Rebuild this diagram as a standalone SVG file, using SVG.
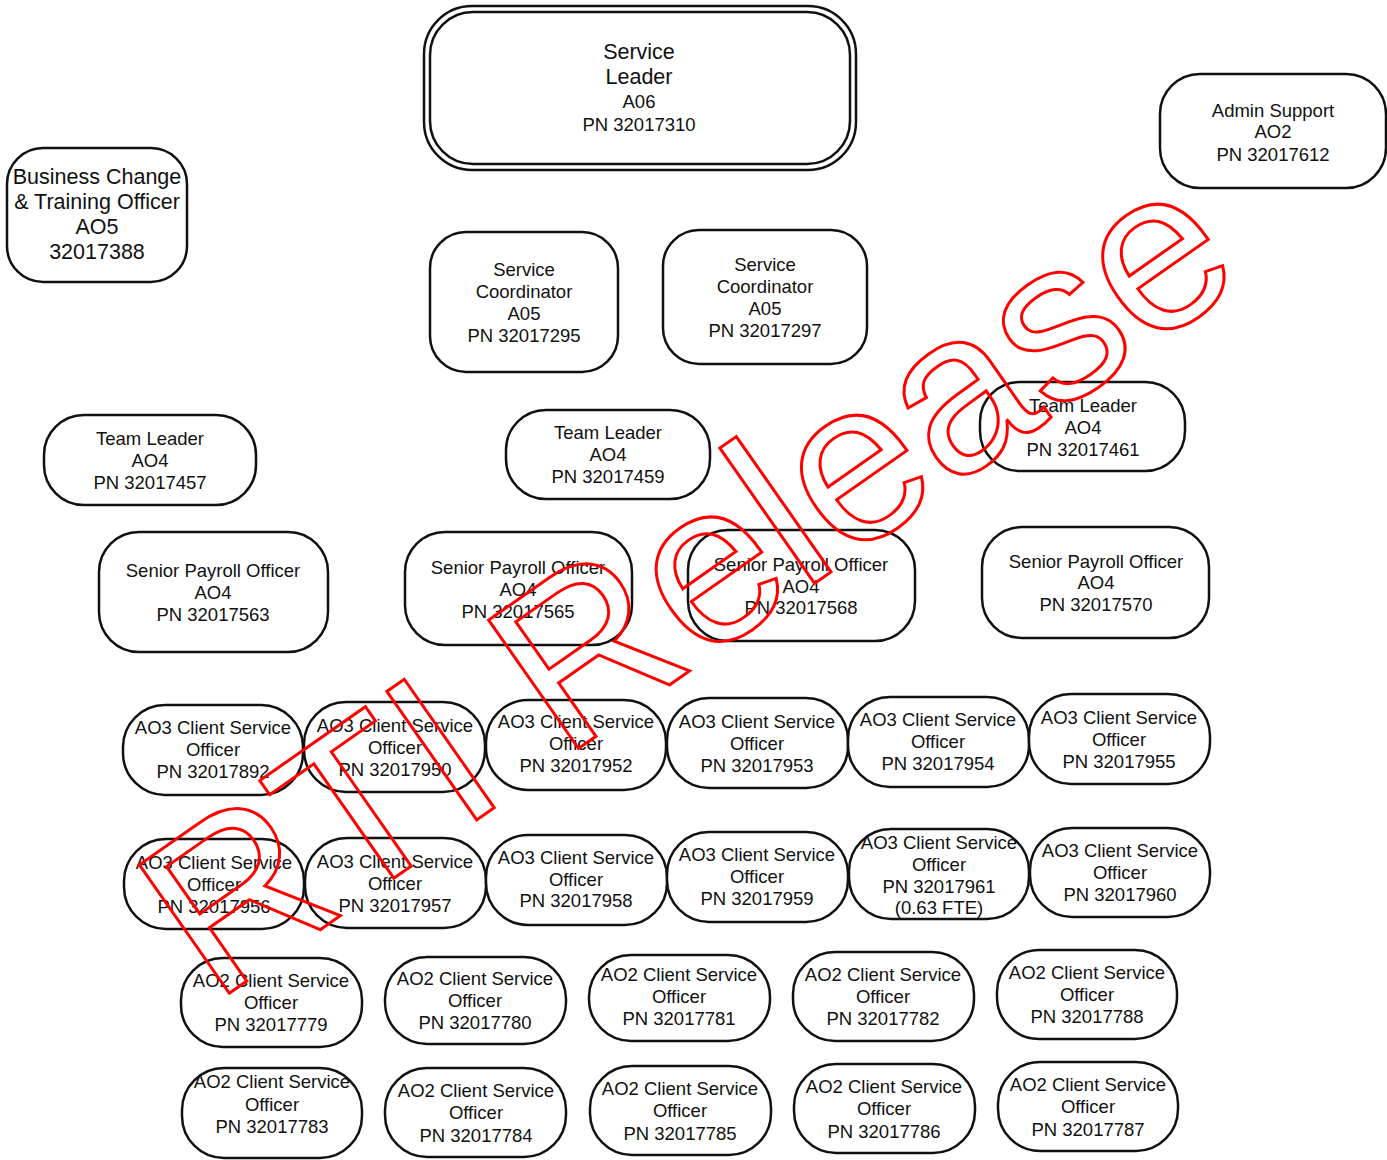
<svg xmlns="http://www.w3.org/2000/svg" width="1387" height="1160" viewBox="0 0 1387 1160">
<style>
.b{fill:#fff;stroke:#111;stroke-width:2.5}
.t{font-family:"Liberation Sans",Arial,sans-serif;font-size:18.5px;fill:#111;text-anchor:middle}
.L{font-size:21.5px}
.wm{font-family:"Liberation Sans",Arial,sans-serif;font-size:228px;fill:none;stroke:#f00;stroke-width:3}
</style>
<rect width="1387" height="1160" fill="#fff"/>
<g id="connectors"/>
<g id="service-leader">
<rect class="b" x="424" y="6" width="432" height="164" rx="48"/>
<rect class="b" x="430" y="12" width="420" height="152" rx="43"/>
<text class="t L" x="639" y="59">Service</text>
<text class="t L" x="639" y="84">Leader</text>
<text class="t" x="639" y="108">A06</text>
<text class="t" x="639" y="131">PN 32017310</text>
</g>
<g id="admin-support">
<rect class="b" x="1160" y="74" width="226" height="114" rx="40"/>
<text class="t" x="1273" y="117">Admin Support</text>
<text class="t" x="1273" y="138">AO2</text>
<text class="t" x="1273" y="161">PN 32017612</text>
</g>
<g id="business-change">
<rect class="b" x="7" y="148" width="180" height="134" rx="36"/>
<text class="t L" x="97" y="184">Business Change</text>
<text class="t L" x="97" y="209">&amp; Training Officer</text>
<text class="t L" x="97" y="234">AO5</text>
<text class="t L" x="97" y="259">32017388</text>
</g>
<g id="coord-295">
<rect class="b" x="430" y="232" width="188" height="140" rx="36"/>
<text class="t" x="524" y="276">Service</text>
<text class="t" x="524" y="298">Coordinator</text>
<text class="t" x="524" y="320">A05</text>
<text class="t" x="524" y="342">PN 32017295</text>
</g>
<g id="coord-297">
<rect class="b" x="663" y="230" width="204" height="134" rx="36"/>
<text class="t" x="765" y="271">Service</text>
<text class="t" x="765" y="293">Coordinator</text>
<text class="t" x="765" y="315">A05</text>
<text class="t" x="765" y="337">PN 32017297</text>
</g>
<g id="tl-457">
<rect class="b" x="44" y="415" width="212" height="90" rx="40"/>
<text class="t" x="150" y="445">Team Leader</text>
<text class="t" x="150" y="467">AO4</text>
<text class="t" x="150" y="489">PN 32017457</text>
</g>
<g id="tl-459">
<rect class="b" x="506" y="410" width="204" height="89" rx="40"/>
<text class="t" x="608" y="439">Team Leader</text>
<text class="t" x="608" y="461">AO4</text>
<text class="t" x="608" y="483">PN 32017459</text>
</g>
<g id="tl-461">
<rect class="b" x="980" y="382" width="205" height="89" rx="40"/>
<text class="t" x="1083" y="412">Team Leader</text>
<text class="t" x="1083" y="434">AO4</text>
<text class="t" x="1083" y="456">PN 32017461</text>
</g>
<g id="sp-563">
<rect class="b" x="99" y="532" width="229" height="120" rx="40"/>
<text class="t" x="213" y="577">Senior Payroll Officer</text>
<text class="t" x="213" y="599">AO4</text>
<text class="t" x="213" y="621">PN 32017563</text>
</g>
<g id="sp-565">
<rect class="b" x="405" y="532" width="227" height="113" rx="40"/>
<text class="t" x="518" y="574">Senior Payroll Officer</text>
<text class="t" x="518" y="596">AO4</text>
<text class="t" x="518" y="618">PN 32017565</text>
</g>
<g id="sp-568">
<rect class="b" x="688" y="530" width="227" height="111" rx="40"/>
<text class="t" x="801" y="571">Senior Payroll Officer</text>
<text class="t" x="801" y="593">AO4</text>
<text class="t" x="801" y="614">PN 32017568</text>
</g>
<g id="sp-570">
<rect class="b" x="982" y="527" width="227" height="111" rx="40"/>
<text class="t" x="1096" y="568">Senior Payroll Officer</text>
<text class="t" x="1096" y="589">AO4</text>
<text class="t" x="1096" y="611">PN 32017570</text>
</g>
<g id="ao3-892">
<rect class="b" x="123" y="705" width="180" height="90" rx="42"/>
<text class="t" x="213" y="734">AO3 Client Service</text>
<text class="t" x="213" y="756">Officer</text>
<text class="t" x="213" y="778">PN 32017892</text>
</g>
<g id="ao3-950">
<rect class="b" x="304" y="702" width="181" height="90" rx="42"/>
<text class="t" x="395" y="732">AO3 Client Service</text>
<text class="t" x="395" y="754">Officer</text>
<text class="t" x="395" y="776">PN 32017950</text>
</g>
<g id="ao3-952">
<rect class="b" x="486" y="700" width="180" height="90" rx="42"/>
<text class="t" x="576" y="728">AO3 Client Service</text>
<text class="t" x="576" y="750">Officer</text>
<text class="t" x="576" y="772">PN 32017952</text>
</g>
<g id="ao3-953">
<rect class="b" x="667" y="698" width="181" height="90" rx="42"/>
<text class="t" x="757" y="728">AO3 Client Service</text>
<text class="t" x="757" y="750">Officer</text>
<text class="t" x="757" y="772">PN 32017953</text>
</g>
<g id="ao3-954">
<rect class="b" x="848" y="697" width="181" height="90" rx="42"/>
<text class="t" x="938" y="726">AO3 Client Service</text>
<text class="t" x="938" y="748">Officer</text>
<text class="t" x="938" y="770">PN 32017954</text>
</g>
<g id="ao3-955">
<rect class="b" x="1029" y="694" width="181" height="90" rx="42"/>
<text class="t" x="1119" y="724">AO3 Client Service</text>
<text class="t" x="1119" y="746">Officer</text>
<text class="t" x="1119" y="768">PN 32017955</text>
</g>
<g id="ao3-956">
<rect class="b" x="124" y="839" width="180" height="90" rx="42"/>
<text class="t" x="214" y="869">AO3 Client Service</text>
<text class="t" x="214" y="891">Officer</text>
<text class="t" x="214" y="913">PN 32017956</text>
</g>
<g id="ao3-957">
<rect class="b" x="305" y="838" width="181" height="90" rx="42"/>
<text class="t" x="395" y="868">AO3 Client Service</text>
<text class="t" x="395" y="890">Officer</text>
<text class="t" x="395" y="912">PN 32017957</text>
</g>
<g id="ao3-958">
<rect class="b" x="486" y="835" width="181" height="90" rx="42"/>
<text class="t" x="576" y="864">AO3 Client Service</text>
<text class="t" x="576" y="886">Officer</text>
<text class="t" x="576" y="907">PN 32017958</text>
</g>
<g id="ao3-959">
<rect class="b" x="667" y="832" width="181" height="90" rx="42"/>
<text class="t" x="757" y="861">AO3 Client Service</text>
<text class="t" x="757" y="883">Officer</text>
<text class="t" x="757" y="905">PN 32017959</text>
</g>
<g id="ao3-961">
<rect class="b" x="849" y="829" width="180" height="90" rx="42"/>
<text class="t" x="939" y="849">AO3 Client Service</text>
<text class="t" x="939" y="871">Officer</text>
<text class="t" x="939" y="893">PN 32017961</text>
<text class="t" x="939" y="914">(0.63 FTE)</text>
</g>
<g id="ao3-960">
<rect class="b" x="1030" y="828" width="180" height="89" rx="42"/>
<text class="t" x="1120" y="857">AO3 Client Service</text>
<text class="t" x="1120" y="879">Officer</text>
<text class="t" x="1120" y="901">PN 32017960</text>
</g>
<g id="ao2-779">
<rect class="b" x="181" y="958" width="181" height="89" rx="42"/>
<text class="t" x="271" y="987">AO2 Client Service</text>
<text class="t" x="271" y="1009">Officer</text>
<text class="t" x="271" y="1031">PN 32017779</text>
</g>
<g id="ao2-780">
<rect class="b" x="385" y="957" width="181" height="87" rx="42"/>
<text class="t" x="475" y="985">AO2 Client Service</text>
<text class="t" x="475" y="1007">Officer</text>
<text class="t" x="475" y="1029">PN 32017780</text>
</g>
<g id="ao2-781">
<rect class="b" x="589" y="955" width="181" height="86" rx="42"/>
<text class="t" x="679" y="981">AO2 Client Service</text>
<text class="t" x="679" y="1003">Officer</text>
<text class="t" x="679" y="1025">PN 32017781</text>
</g>
<g id="ao2-782">
<rect class="b" x="793" y="952" width="181" height="89" rx="42"/>
<text class="t" x="883" y="981">AO2 Client Service</text>
<text class="t" x="883" y="1003">Officer</text>
<text class="t" x="883" y="1025">PN 32017782</text>
</g>
<g id="ao2-788">
<rect class="b" x="997" y="950" width="180" height="89" rx="42"/>
<text class="t" x="1087" y="979">AO2 Client Service</text>
<text class="t" x="1087" y="1001">Officer</text>
<text class="t" x="1087" y="1023">PN 32017788</text>
</g>
<g id="ao2-783">
<rect class="b" x="182" y="1068" width="180" height="90" rx="42"/>
<text class="t" x="272" y="1088">AO2 Client Service</text>
<text class="t" x="272" y="1111">Officer</text>
<text class="t" x="272" y="1133">PN 32017783</text>
</g>
<g id="ao2-784">
<rect class="b" x="385" y="1068" width="181" height="89" rx="42"/>
<text class="t" x="476" y="1097">AO2 Client Service</text>
<text class="t" x="476" y="1119">Officer</text>
<text class="t" x="476" y="1142">PN 32017784</text>
</g>
<g id="ao2-785">
<rect class="b" x="590" y="1066" width="181" height="89" rx="42"/>
<text class="t" x="680" y="1095">AO2 Client Service</text>
<text class="t" x="680" y="1117">Officer</text>
<text class="t" x="680" y="1140">PN 32017785</text>
</g>
<g id="ao2-786">
<rect class="b" x="794" y="1064" width="181" height="89" rx="42"/>
<text class="t" x="884" y="1093">AO2 Client Service</text>
<text class="t" x="884" y="1115">Officer</text>
<text class="t" x="884" y="1138">PN 32017786</text>
</g>
<g id="ao2-787">
<rect class="b" x="998" y="1062" width="180" height="89" rx="42"/>
<text class="t" x="1088" y="1091">AO2 Client Service</text>
<text class="t" x="1088" y="1113">Officer</text>
<text class="t" x="1088" y="1136">PN 32017787</text>
</g>
<g id="watermark">
<text class="wm" x="214" y="1004" transform="rotate(-35 214 1004)">RTI Release</text>
</g>
</svg>
